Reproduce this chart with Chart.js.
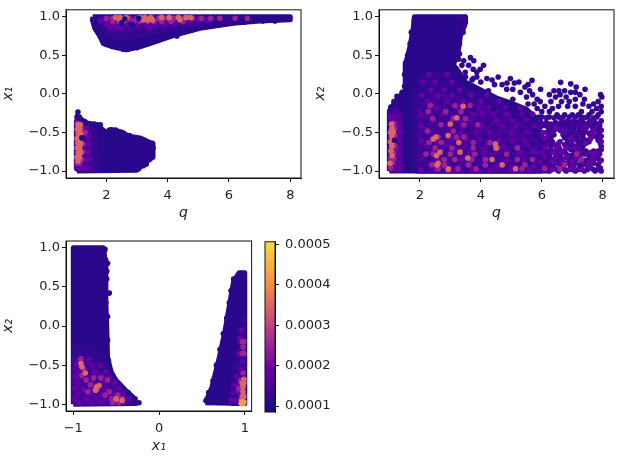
<!DOCTYPE html>
<html>
<head>
<meta charset="utf-8">
<script src="https://cdn.jsdelivr.net/npm/chart.js@4"></script>
<style>
html, body { margin: 0; background: #fff; }
canvas { position: absolute; filter: blur(0.5px); }
</style>
</head>
<body>
<canvas id="chartA" style="left:0;top:0"></canvas>
<canvas id="chartB" style="left:312px;top:0"></canvas>
<canvas id="chartC" style="left:0;top:228px"></canvas>
<canvas id="chartBar" style="left:255px;top:228px"></canvas>
<script>
// tick labels
const qTicks = [2, 4, 6, 8];
const xTicks = [-1.0, -0.5, 0.0, 0.5, 1.0];
const x1Ticks = [-1, 0, 1];
const barTicks = [0.0001, 0.0002, 0.0003, 0.0004, 0.0005];

// colour levels of the scatter (weight values)
const vDark = 0.00009, vLow = 0.000105, vSoft = 0.00012, vMid = 0.000145, vPurple = 0.00018;
const vPink = 0.00025, vOrange = 0.00035, vHot = 0.00042;
const barMin = 0.0000852, barMax = 0.000507;
const colourStops = ['#1a0a85', '#6a00a8', '#bf3f84', '#f68d45', '#fcdc3c'];

// ---- q / x1 panel. outlines are dense parts of the cloud, rows are [y, x, x, ...]
const aUpperOutline = [[1.55,1],[8,1],[8,0.96],[7,0.945],[6.14,0.915],[5.05,0.85],[4.29,0.77],[3.63,0.68],[3.09,0.61],[2.65,0.57],[2.2,0.61],[1.9,0.65],[1.78,0.75],[1.62,0.85],[1.54,0.96]];
const aUpperBand1 = [[1.7,0.98],[6.5,0.98],[5,0.9],[4,0.83],[3,0.76],[2.4,0.72],[2,0.8]];
const aUpperBand2 = [[1.8,0.98],[5.6,0.98],[5,0.94],[4,0.9],[3,0.86],[2.4,0.82],[2,0.88]];
const aUpperEdge = [[0.93,1.6],[0.87,1.68],[0.8,1.75],[0.72,1.85],[0.66,1.95,2.1],[0.62,2.3],[0.58,2.55,2.7],[0.6,2.85,3],[0.65,3.35],[0.7,3.7],[0.75,4.1,4.3],[0.8,4.5],[0.83,4.8],[0.87,5.25],[0.9,5.6],[0.93,6.2,6.5],[0.945,7.1,7.5]];
const aUpperPurple = [[0.85,2.1,2.3,2.5,3.4],[0.9,2,2.2,2.4,2.6,3,3.3,3.6,3.9,4.2],[0.95,1.8,2,2.15,2.3,2.45,2.7,2.85,3.15,3.3,3.5,3.75,3.95,4.2,4.4,4.7,5,5.3]];
const aUpperPink = [[0.98,2,2.2,2.35,2.6,2.75,3,3.4,3.7,3.95,4.2,4.5,4.8,5.1,5.4,5.7,6.2,6.6],[0.94,2.2,2.4,2.55,2.9,3.1,3.35,3.55,3.8,4.1,4.5]];
const aUpperOrange = [[0.99,2.3,2.45,2.65,3.1,3.25,3.45,3.8,4.05,4.35,4.6,4.75],[0.96,2.45,2.6,3.2,3.35,3.5,4.4]];
const aUpperDark = [[0.98,3.05],[0.97,2.6],[0.9,2.85],[0.92,2.5]];
const aLowerOutline = [[1.04,-1],[1.04,-0.29],[1.35,-0.375],[1.67,-0.4],[2,-0.5],[2.16,-0.46],[2.54,-0.5],[2.7,-0.545],[3.09,-0.57],[3.42,-0.63],[3.52,-0.65],[3.52,-0.82],[3.3,-0.88],[2.98,-0.99]];
const aLowerBand1 = [[1.02,-0.98],[1.02,-0.36],[1.3,-0.4],[1.6,-0.48],[1.75,-0.98]];
const aLowerBand2 = [[1.02,-0.98],[1.02,-0.38],[1.2,-0.4],[1.4,-0.5],[1.5,-0.98]];
const aLowerEdge = [[-0.235,1.07],[-0.3,1.05,1.12],[-0.91,3.3],[-0.4,1.7,1.8],[-0.54,2.6,2.75],[-0.5,1.9],[-0.47,2.1,2.3],[-0.5,2.45],[-0.58,2.9,3.05],[-0.6,3.2],[-0.64,3.38,3.5],[-0.7,3.52],[-0.78,3.5],[-0.85,3.4],[-0.93,3.2],[-0.97,3.05],[-0.36,1.3],[-0.39,1.45,1.6]];
const aLowerPurple = [[-0.45,1.25,1.35],[-0.55,1.28,1.4],[-0.65,1.3,1.42],[-0.75,1.3,1.42],[-0.85,1.28,1.4],[-0.95,1.05,1.15,1.25,1.35]];
const aLowerPink = [[-0.38,1.05],[-0.45,1.18],[-0.55,1.2],[-0.65,1.22],[-0.75,1.22],[-0.85,1.18],[-0.9,1.05,1.12],[-0.5,1.3]];
const aLowerOrange = [[-0.4,1.07,1.15],[-0.46,1.05,1.12],[-0.52,1.08,1.16],[-0.58,1.04,1.13],[-0.64,1.07,1.16],[-0.7,1.05,1.13],[-0.76,1.08,1.15],[-0.82,1.04,1.12],[-0.87,1.07]];
const aLowerDark = [[-0.57,1.2]];

// ---- q / x2 panel
const bOutline = [[1,-1],[1,-0.22],[1.3,-0.04],[1.52,0.03],[1.52,0.37],[1.68,0.62],[1.79,0.87],[1.82,1],[3.49,1],[3.5,0.92],[3.33,0.75],[3.27,0.58],[3.1,0.37],[3.2,0.33],[3.5,0.15],[4,0.05],[4.5,-0.05],[5,-0.12],[5.5,-0.2],[5.9,-0.35],[5.95,-0.42],[5.9,-0.5],[6.15,-0.62],[6.05,-0.75],[6.3,-0.85],[6.2,-1]];
const bBand1 = [[1.85,-1],[1.85,0.05],[2.1,0.25],[3,0.25],[3.2,0.1],[4,0],[5.85,-0.4],[5.85,-1]];
const bBand2 = [[2,-1],[2,-0.2],[2.5,0.0],[3.5,-0.1],[5,-0.3],[5.8,-0.55],[5.8,-1]];
const bLeftBand = [[1.02,-0.98],[1.02,-0.25],[1.2,-0.2],[1.38,-0.3],[1.38,-0.98]];
const bEdge = [[0.95,1.82],[0.8,1.72],[0.65,1.68,3.3],[0.5,1.6,3.25],[0.4,1.53],[0.25,1.5],[0.1,1.5],[0.02,1.42],[-0.03,1.25],[-0.1,1.15],[-0.17,1.05],[0.75,3.28],[0.95,3.48],[0.85,3.35]];
const bTopDark = [[0.88,3.44],[0.98,3.3,3.4,3.47],[0.92,3.4],[0.8,3.42],[0.52,3.3],[0.47,3.66],[0.45,3.27],[0.43,3.44,3.77],[0.37,3.38,3.6,4.09],[0.32,3.98,3.75],[0.28,3.49,3.87],[0.22,3.87,4.57,3.5],[0.2,4.2,4.97,3.75],[0.18,3.71,4.37],[0.155,5.25,4],[0.175,5.68],[0.15,6.62],[0.14,4.86,5.1],[0.13,6.95],[0.12,4.7,5.55,4.45],[0.09,7.13,5.45],[0.06,5.96,7.42,4.85,5.05],[0.04,6.56,6.75,6.4,5.6,4.25],[0.02,5.3,6.95,7.1],[-0.01,7.93,5.7,6.6,7.25,6.25],[-0.04,5.5,7.97,6.45,6.8],[-0.07,5.05,5.85,7.4,7.1],[-0.1,7.85,6.9,6.3,6.65,5.95],[-0.13,5.75,5.55,7.7,7.35],[-0.16,6.1,7.55,7.95,6.85,6.55,7.1],[-0.19,5.35,5.85,6.35,7.8],[-0.23,6,6.25,7.3,7.65,7.95],[-0.27,5.7,6.5,6.75,7,7.2,7.55,7.85]];
const bRightDark = [[-0.31,6.15,6.4,7.4,7.7],[-0.35,5.95,6.65,6.85,7.05,7.25,7.6,7.95],[-0.39,6.05,6.3,6.55,7.45,7.85],[-0.43,5.95,6.2,6.75,7,7.2,7.65],[-0.47,6.4,6.6,7.35,7.8,7.95],[-0.51,6.3,6.85,7.1,7.55],[-0.55,5.95,6.2,6.85,7.25,7.75,7.95],[-0.6,6.25,7,7.15,7.45,7.85],[-0.66,5.95,6.2,6.4,6.75,7,7.2,7.3],[-0.72,6.3,6.6,6.95,7.2,7.95],[-0.78,5.95,6.15,6.5,6.8,7.1,7.4,7.9],[-0.84,6.3,6.65,7,7.25,7.55,7.85],[-0.9,6,6.2,6.5,6.85,7.1,7.45,7.7],[-0.96,6.15,6.4,6.7,6.95,7.25,7.6,7.92],[-1,5.95,6.25,6.55,6.8,7.1,7.4,7.75,7.95]];
const bRightFill = [[-0.3,5.9,6,6.25,6.55,6.7,6.9,7.1,7.3,7.5,7.8],[-0.37,6.15,6.45,6.75,6.95,7.15,7.35,7.55,7.75],[-0.41,6.1,6.4,6.65,6.85,7.1,7.3,7.5,7.7,7.9],[-0.45,6.3,6.5,6.9,7.05,7.25,7.45,7.85],[-0.49,6.2,6.75,7,7.2,7.4,7.65,7.9],[-0.53,6.4,6.7,6.95,7.15,7.35,7.65,7.85],[-0.57,6.3,6.75,7.1,7.35,7.6,7.9],[-0.62,6.05,6.35,6.6,6.85,7.3,7.55,7.95],[-0.68,6.05,6.3,6.55,6.85,7.1,7.35,7.95],[-0.74,6.05,6.2,6.45,6.75,7.05,7.3,7.45,7.7,7.85],[-0.8,6.25,6.6,6.95,7.25,7.55,7.75],[-0.86,6.15,6.4,6.55,6.9,7.1,7.4,7.7,7.95],[-0.92,6.1,6.35,6.65,6.95,7.25,7.35,7.55,7.85],[-0.98,6.05,6.3,6.5,6.75,7,7.2,7.5,7.7,7.85]];
const bRightPurple = [[-0.44,6.45,7.4],[-0.5,6.05,6.7,7.65],[-0.58,6.1,6.95,7.6],[-0.64,6.55,7.45,7.92],[-0.7,6.1,6.5,6.8,7.1],[-0.76,6,6.35,6.65,7.25,7.6,7.8],[-0.82,6.1,6.45,6.8,7.15,7.7],[-0.88,5.95,6.35,6.7,7,7.3,7.6,7.9],[-0.94,6.05,6.6,7.05,7.5],[-0.98,6.35,6.9,7.3]];
const bMidDark = [[-0.1,2.7,3.1,3.6],[-0.2,2.1,3,3.75,4.4],[-0.28,2.55,3.55,4.6,5.1],[-0.38,2.2,2.75,3.85,4.2,4.9,5.6],[-0.46,3.2,3.6,4.45,5.3],[-0.55,2.15,2.75,3.7,4.15,4.75,5.55,5.8],[-0.65,2.35,3.65,4.05,4.9,5.3,5.7],[-0.72,2.1,2.9,3.85,4.3,5.1,5.5],[-0.82,2.3,2.85,3.9,4.55,5,5.75],[-0.9,2.05,3.15,3.75,4.3,5.25,5.6],[-0.97,2.2,3.5,3.95,4.75,5.4]];
const bMidPurple = [[0.25,2.3,2.9],[0.15,2.1,2.5,3.05],[0.05,2.35,2.8,3.3],[-0.02,2.05,2.6,3.05,3.7,4.2],[-0.1,2.25,2.9,3.4,4,4.6],[-0.18,2.55,3.25,3.9,4.3,4.8,5.3],[-0.26,2.05,2.75,3.75,4.05,4.4,4.85,5.35,5.7],[-0.34,2.45,3.3,3.65,4.5,5,5.5],[-0.42,2.05,2.95,3.4,4.05,4.7,5.15,5.75],[-0.5,2.3,3.35,3.85,4.3,5,5.5],[-0.6,2.05,2.55,3.05,3.55,3.95,4.6,5.05,5.45],[-0.68,2.2,2.85,3.5,4.2,4.75,5.55],[-0.76,2.4,3.05,3.65,4.1,4.5,5.3,5.75],[-0.86,2.05,2.6,3.35,4.1,4.85,5.4],[-0.94,2.3,2.75,3.25,3.7,4.5,5.15,5.7],[-0.99,2.05,2.5,3.1,3.75,4.3,5,5.6]];
const bMidPink = [[-0.15,2.35,3.15,3.65],[-0.23,2.28,2.85,3.35],[-0.32,2.42,3.1,3.5],[-0.4,2.7,3.45,3.9],[-0.48,2.25,3.1],[-0.56,2.6,3.2,3.45],[-0.63,2.3,2.7,3.75,4.3],[-0.7,2.5,3.05,3.75,4.55,5.2],[-0.78,2.2,2.45,3,3.8,4.85,7.15],[-0.85,2.8,3.15,3.7,4.15,5.2,5.7,7.3],[-0.92,2.4,2.8,3.6,4.15,5.45,6.75],[-0.97,2.6,3.25,3.85,5.35,6.1,6.6]];
const bMidOrange = [[-0.16,3.42],[-0.31,3.21],[-0.39,3],[-0.54,2.93],[-0.56,2.53],[-0.585,2.44],[-0.63,3.28],[-0.65,4.48],[-0.7,4.5],[-0.755,2.66,3.32],[-0.8,2.55],[-0.83,3.57],[-0.85,4.37],[-0.9,2.6],[-0.92,2.56,4.7],[-0.97,2.94,5.14],[-0.98,2.93]];
const bLeftPurple = [[-0.3,1.05,1.15,1.25],[-0.4,1.25,1.32],[-0.5,1.27,1.34],[-0.6,1.25,1.32],[-0.7,1.26,1.33],[-0.8,1.24,1.32],[-0.9,1.25,1.33],[-0.98,1.05,1.15,1.25,1.33]];
const bLeftPink = [[-0.38,1.15],[-0.45,1.18],[-0.55,1.18],[-0.68,1.18],[-0.76,1.14],[-0.84,1.04,1.15],[-0.9,1.1],[-0.96,1.05]];
const bLeftOrange = [[-0.39,1.07],[-0.45,1.08],[-0.5,1.04,1.13],[-0.56,1.08],[-0.62,1.04,1.13],[-0.68,1.08],[-0.74,1.05],[-0.8,1.09],[-0.9,1.02]];
const bLeftDark = [[-0.6,1.17]];

// ---- x1 / x2 panel
const cLeftOutline = [[-1,-1],[-1,1],[-0.65,1],[-0.63,0.85],[-0.62,0.6],[-0.62,0.3],[-0.61,0],[-0.6,-0.4],[-0.56,-0.58],[-0.505,-0.69],[-0.39,-0.82],[-0.29,-0.92],[-0.27,-0.99]];
const cLeftBand1 = [[-0.99,-0.99],[-0.99,-0.25],[-0.75,-0.35],[-0.6,-0.55],[-0.45,-0.78],[-0.34,-0.98]];
const cLeftBand2 = [[-0.99,-0.99],[-0.99,-0.42],[-0.78,-0.52],[-0.62,-0.68],[-0.5,-0.82],[-0.4,-0.98]];
const cLeftEdge = [[0.42,-0.58],[0.7,-0.61],[0.12,-0.6],[-0.18,-0.6],[-0.98,-0.234],[-0.44,-0.59],[0.95,-0.64],[0.98,-0.63],[0.8,-0.6],[0.6,-0.61],[0.3,-0.62],[-0.62,-0.56],[-0.74,-0.47],[-0.85,-0.36],[-0.93,-0.28]];
const cRightOutline = [[0.54,-0.98],[0.617,-0.78],[0.695,-0.44],[0.77,-0.06],[0.83,0.32],[0.87,0.57],[0.935,0.68],[1,0.68],[1,-0.99]];
const cRightBand = [[0.84,-0.99],[0.88,-0.6],[0.94,-0.2],[0.98,0],[0.99,0.1],[0.99,-0.99]];
const cRightEdge = [[0.6,0.87],[0.45,0.84],[0.3,0.82],[0.1,0.79],[-0.1,0.75],[-0.3,0.71],[-0.5,0.67],[-0.7,0.63],[-0.85,0.58],[-0.95,0.55]];
const cLeftPurple = [[-0.43,-0.94,-0.82],[-0.5,-0.97,-0.78,-0.68],[-0.58,-0.95,-0.75,-0.62],[-0.65,-0.98,-0.92,-0.66,-0.58],[-0.72,-0.95,-0.78,-0.66,-0.52],[-0.8,-0.98,-0.88,-0.78,-0.62,-0.47],[-0.87,-0.95,-0.8,-0.66,-0.55,-0.42],[-0.93,-0.98,-0.85,-0.72,-0.62,-0.36],[-0.98,-0.92,-0.78,-0.68,-0.42]];
const cLeftPink = [[-0.42,-0.91],[-0.55,-0.88],[-0.63,-0.9],[-0.66,-0.76,-0.68],[-0.69,-0.85,-0.6],[-0.75,-0.8],[-0.8,-0.72],[-0.84,-0.58,-0.83],[-0.88,-0.63,-0.48],[-0.93,-0.55,-0.43],[-0.98,-0.54,-0.47]];
const cLeftOrange = [[-0.48,-0.91],[-0.52,-0.9],[-0.6,-0.86],[-0.76,-0.7],[-0.78,-0.73],[-0.82,-0.74],[-0.93,-0.5],[-0.95,-0.43]];
const cRightPurple = [[-0.05,0.96],[-0.15,0.94],[-0.35,0.93],[-0.45,0.97],[-0.55,0.95],[-0.65,0.91],[-0.75,0.88,0.94],[-0.85,0.86,0.92],[-0.95,0.84,0.9]];
const cRightPink = [[-0.2,0.97,0.99],[-0.27,0.98],[-0.35,0.97,0.99],[-0.6,0.98],[-0.7,0.95],[-0.8,0.93,0.96]];
const cRightOrange = [[-0.68,0.99],[-0.73,0.97,0.99],[-0.78,0.98],[-0.84,0.98],[-0.9,0.97,0.99],[-0.95,0.96]];
const cRightHot = [[-0.97,0.97,0.99],[-0.99,0.96,0.98]];

// rows [y, x, x, ...] to points
function rows(list) {
    var points = [];
    list.forEach(function(row) {
        for (let i = 1; i < row.length; i++) {
            points.push({x: row[i], y: row[0]});
        }
    });
    return points;
}

function valueColour(v) {
    var t = Math.min(1, Math.max(0, (v - barMin) / (barMax - barMin))) * (colourStops.length - 1);
    var i = Math.min(Math.floor(t), colourStops.length - 2);
    var a = parseInt(colourStops[i].slice(1), 16), b = parseInt(colourStops[i + 1].slice(1), 16);
    var f = t - i;
    var r = Math.round((a >> 16) * (1 - f) + (b >> 16) * f);
    var g = Math.round(((a >> 8) & 255) * (1 - f) + ((b >> 8) & 255) * f);
    var bl = Math.round((a & 255) * (1 - f) + (b & 255) * f);
    return 'rgb(' + r + ',' + g + ',' + bl + ')';
}

function cloud(outline, v) {
    var pts = outline.map(function(p) { return {x: p[0], y: p[1]}; });
    pts.push(pts[0]);
    return {
        data: pts, showLine: true, fill: 'shape', pointRadius: 0, tension: 0,
        backgroundColor: valueColour(v), borderColor: valueColour(v),
        borderWidth: 5, borderJoinStyle: 'round'
    };
}

function dots(list, v) {
    return {
        data: rows(list), showLine: false, pointRadius: 2.8, pointHoverRadius: 2.8,
        pointBorderWidth: 0, backgroundColor: valueColour(v), borderColor: valueColour(v)
    };
}

const tickFont = {family: 'DejaVu Sans', size: 13};
const titleFont = {family: 'DejaVu Sans', size: 14, style: 'italic'};
const ink = '#222';

// frame on all four sides
const frame = {
    id: 'frame',
    afterDraw: function(chart) {
        var a = chart.chartArea, ctx = chart.ctx;
        ctx.save();
        ctx.strokeStyle = '#111';
        ctx.lineWidth = 1;
        ctx.strokeRect(a.left, a.top, a.right - a.left, a.bottom - a.top);
        ctx.restore();
    }
};

function axis(ticks, text, label, fit, titlePad, min, max) {
    return {
        type: 'linear', min: min, max: max,
        afterBuildTicks: function(s) { s.ticks = ticks.map(function(v) { return {value: v}; }); },
        afterFit: function(s) { if (s.isHorizontal()) { s.height = fit; } else { s.width = fit; } },
        grid: {drawOnChartArea: false, tickLength: 4, color: '#111'},
        border: {color: '#111'},
        ticks: {font: tickFont, color: ink, padding: 2, autoSkip: false, maxRotation: 0,
            callback: function(v) { return label(v); }},
        title: {display: true, text: text, font: titleFont, color: ink, padding: titlePad}
    };
}

function bottomAxis(ticks, text, label, fit, titlePad, min, max) {
    var a = axis(ticks, text, label, fit, titlePad, min, max);
    a.ticks.padding = 6;
    return a;
}

function minus(s) { return s.replace('-', '\u2212'); }
function oneDec(v) { return minus(v.toFixed(1)); }
function whole(v) { return minus(String(v)); }

function panel(id, w, h, padding, xAxis, yAxis, datasets) {
    var canvas = document.getElementById(id);
    canvas.width = w;
    canvas.height = h;
    return new Chart(canvas, {
        type: 'scatter',
        data: {datasets: datasets},
        plugins: [frame],
        options: {
            responsive: false, animation: false,
            layout: {padding: padding},
            plugins: {legend: {display: false}, tooltip: {enabled: false}},
            scales: {x: xAxis, y: yAxis}
        }
    });
}

panel('chartA', 312, 228, {top: 6, right: 11},
    bottomAxis(qTicks, 'q', whole, 50, {top: 0, bottom: 6}, 0.68, 8.35),
    axis(xTicks, 'x\u2081', oneDec, 66, {top: 0, bottom: 0}, -1.09, 1.09),
    [
        dots(aUpperDark, vDark), dots(aLowerDark, vDark),
        dots(aUpperOrange, vOrange), dots(aUpperPink, vPink), dots(aUpperPurple, vPurple),
        dots(aLowerOrange, vOrange), dots(aLowerPink, vPink), dots(aLowerPurple, vPurple),
        dots(aLowerEdge, vLow), dots(aUpperEdge, vLow),
        cloud(aUpperBand2, vMid), cloud(aUpperBand1, vSoft),
        cloud(aLowerBand2, vMid), cloud(aLowerBand1, vSoft),
        cloud(aUpperOutline, vLow), cloud(aLowerOutline, vLow)
    ]);

panel('chartB', 312, 228, {top: 6, right: 10},
    bottomAxis(qTicks, 'q', whole, 50, {top: 0, bottom: 6}, 0.66, 8.37),
    axis(xTicks, 'x\u2082', oneDec, 67, {top: 0, bottom: 0}, -1.09, 1.09),
    [
        dots(bLeftDark, vDark), dots(bLeftOrange, vOrange), dots(bLeftPink, vPink), dots(bLeftPurple, vPurple),
        dots(bMidOrange, vOrange), dots(bMidPink, vPink), dots(bMidDark, vSoft), dots(bMidPurple, vPurple),
        dots(bRightPurple, vPurple), dots(bRightDark, vMid), dots(bRightFill, vSoft), dots(bTopDark, vSoft),
        dots(bEdge, vLow),
        cloud(bLeftBand, vMid), cloud(bBand2, vMid), cloud(bBand1, vSoft), cloud(bOutline, vLow)
    ]);

panel('chartC', 255, 229, {top: 13},
    bottomAxis(x1Ticks, 'x\u2081', whole, 46, {top: 0, bottom: 2}, -1.085, 1.08),
    axis(xTicks, 'x\u2082', oneDec, 66, {top: 0, bottom: 0}, -1.085, 1.085),
    [
        dots(cRightHot, vHot), dots(cLeftOrange, vOrange), dots(cRightOrange, vOrange),
        dots(cLeftPink, vPink), dots(cRightPink, vPink),
        dots(cLeftPurple, vPurple), dots(cRightPurple, vPurple),
        dots(cLeftEdge, vLow), dots(cRightEdge, vLow),
        cloud(cLeftBand2, vMid), cloud(cLeftBand1, vSoft), cloud(cRightBand, vSoft),
        cloud(cLeftOutline, vLow), cloud(cRightOutline, vLow)
    ]);

// colour bar: one floating bar running over the whole value range
const barCanvas = document.getElementById('chartBar');
barCanvas.width = 90;
barCanvas.height = 229;
new Chart(barCanvas, {
    type: 'bar',
    data: {
        labels: [''],
        datasets: [{
            data: [[barMin, barMax]],
            categoryPercentage: 1, barPercentage: 1,
            backgroundColor: function(context) {
                var area = context.chart.chartArea;
                if (!area) { return colourStops[0]; }
                var g = context.chart.ctx.createLinearGradient(0, area.bottom, 0, area.top);
                colourStops.forEach(function(c, i) { g.addColorStop(i / (colourStops.length - 1), c); });
                return g;
            }
        }]
    },
    plugins: [frame],
    options: {
        responsive: false, animation: false,
        layout: {padding: {top: 13, left: 10, bottom: 45}},
        plugins: {legend: {display: false}, tooltip: {enabled: false}},
        scales: {
            x: {display: false},
            y: {
                position: 'right', min: barMin, max: barMax,
                afterBuildTicks: function(s) { s.ticks = barTicks.map(function(v) { return {value: v}; }); },
                afterFit: function(s) { s.width = 70; },
                grid: {drawOnChartArea: false, tickLength: 4, color: '#111'},
                border: {color: '#111'},
                ticks: {font: tickFont, color: ink, padding: 6, autoSkip: false,
                    callback: function(v) { return v.toFixed(4); }}
            }
        }
    }
});
</script>
</body>
</html>
